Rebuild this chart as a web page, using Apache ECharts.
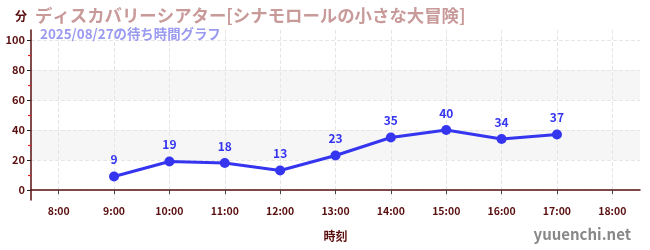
<!DOCTYPE html>
<html><head><meta charset="utf-8">
<script src="https://cdn.jsdelivr.net/npm/echarts@6/dist/echarts.min.js"></script>
<style>html,body{margin:0;padding:0;background:#fff}#c{width:650px;height:250px}</style>
</head><body><div id="c"></div>
<script>
const titleText = 'ディスカバリーシアター[シナモロールの小さな大冒険]';
const subText = '2025/08/27の待ち時間グラフ';
const hours = [9, 10, 11, 12, 13, 14, 15, 16, 17];
const waits = [9, 19, 18, 13, 23, 35, 40, 34, 37];
const xTicks = [8, 9, 10, 11, 12, 13, 14, 15, 16, 17, 18];
const yTicks = [0, 20, 40, 60, 80, 100];
const yMinorTicks = [10, 30, 50, 70, 90];

const font = '"Noto Sans CJK JP", "Noto Sans", sans-serif';
const axisColor = '#5a0f0f';
const chart = echarts.init(document.getElementById('c'));
chart.setOption({
  animation: false,
  textStyle: {fontFamily: font},
  title: [
    {text: titleText, left: 30, top: 2, textStyle: {color: '#c99a9a', fontSize: 17.4, fontWeight: 'bold', fontFamily: font}},
    {text: subText, left: 35, top: 22, textStyle: {color: '#9a9af0', fontSize: 13.4, fontWeight: 'bold', fontFamily: font}},
    {text: 'yuuenchi.net', right: 14, top: 222, textStyle: {color: '#888888', fontSize: 15, fontWeight: 'bold', fontFamily: font}}
  ],
  grid: {left: 31, right: 10, top: 30, bottom: 50, containLabel: false},
  xAxis: {
    type: 'value', min: 7.5, max: 18.5,
    name: '時刻', nameLocation: 'middle', nameGap: 30,
    nameTextStyle: {color: axisColor, fontSize: 12, fontWeight: 'bold'},
    axisLine: {lineStyle: {color: axisColor, width: 1.5}},
    axisTick: {customValues: xTicks, length: 4, lineStyle: {color: '#444'}},
    axisLabel: {customValues: xTicks, formatter: v => v + ':00', color: axisColor, fontSize: 10.5, fontWeight: 'bold', margin: 6},
    splitLine: {show: true, lineStyle: {color: '#e6e6e6', type: 'dashed'}}
  },
  yAxis: [{
    type: 'value', min: -6.67, max: 106.67,
    name: '分', nameLocation: 'end', nameGap: 8,
    nameTextStyle: {color: axisColor, fontSize: 12, fontWeight: 'bold', align: 'right', padding: [0, 4, 0, 0]},
    axisLine: {show: true, lineStyle: {color: axisColor, width: 1.5}},
    axisTick: {show: true, customValues: yTicks, length: 4, lineStyle: {color: '#222'}},
    axisLabel: {customValues: yTicks, color: axisColor, fontSize: 11, fontWeight: 'bold', margin: 6},
    splitLine: {show: true, lineStyle: {color: '#e6e6e6', type: 'dashed'}},
    splitArea: {show: true, areaStyle: {color: ['rgba(255,255,255,0)', '#f6f6f6']}}
  }, {
    type: 'value', min: -6.67, max: 106.67, position: 'left',
    axisLine: {show: false},
    axisTick: {show: true, customValues: yMinorTicks, length: 3, lineStyle: {color: '#e02020', width: 1.2}},
    axisLabel: {show: false},
    splitLine: {show: false}
  }],
  series: [{
    type: 'line',
    data: hours.map((h, i) => [h, waits[i]]),
    symbol: 'circle', symbolSize: 10,
    lineStyle: {color: '#3535f0', width: 3},
    itemStyle: {color: '#3535f0'},
    label: {show: true, position: 'top', color: '#3535f0', fontSize: 12, fontWeight: 'bold', distance: 6}
  }]
});
</script></body></html>
